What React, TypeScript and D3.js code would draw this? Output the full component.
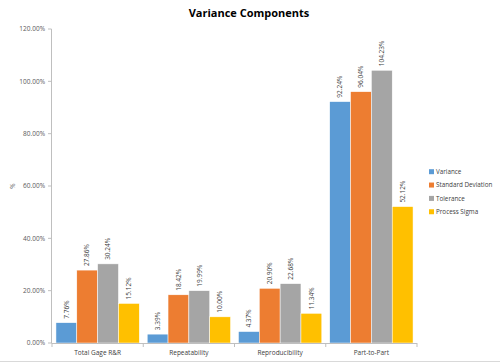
import * as d3 from "d3";

const categories = ["Total Gage R&R", "Repeatability", "Reproducibility", "Part-to-Part"];
const seriesNames = ["Variance", "Standard Deviation", "Tolerance", "Process Sigma"];
const variance = [7.76, 3.39, 4.37, 92.24];
const stdDev = [27.86, 18.42, 20.9, 96.04];
const tolerance = [30.24, 19.99, 22.68, 104.23];
const processSigma = [15.12, 10.0, 11.34, 52.12];
const yTicks = [0, 20, 40, 60, 80, 100, 120];

const COLORS = ["#5B9BD5", "#ED7D31", "#A5A5A5", "#FFC000"];
const FONT = "'Open Sans', 'Liberation Sans', sans-serif";

const WIDTH = 500;
const HEIGHT = 363;
const margin = { top: 29, left: 52, right: 83, bottom: 20 };

export default function App() {
  const series = [variance, stdDev, tolerance, processSigma];
  const plotRight = WIDTH - margin.right;
  const plotBottom = HEIGHT - margin.bottom;

  const x = d3.scaleBand().domain(categories).range([margin.left, plotRight]).paddingOuter(0).paddingInner(0);
  const inner = d3
    .scaleBand()
    .domain(seriesNames)
    .range([0, x.bandwidth()])
    .paddingOuter(0.19)
    .paddingInner(0);
  const y = d3.scaleLinear().domain([0, 120]).range([plotBottom, margin.top]);

  const boundaries = categories.map((c) => x(c)!).concat([plotRight]);

  return (
    <svg
      width={WIDTH}
      height={HEIGHT}
      style={{ position: "fixed", top: 0, left: 0, background: "#fff" }}
      fontFamily={FONT}
    >
      <text x={249} y={17} textAnchor="middle" fontSize={11} fontWeight="bold" fill="#000">
        Variance Components
      </text>

      {/* y axis */}
      <line x1={margin.left - 0.5} x2={margin.left - 0.5} y1={y(120)} y2={plotBottom} stroke="#BFBFBF" />
      {yTicks.map((t) => (
        <g key={t}>
          <line x1={margin.left - 4} x2={margin.left - 0.5} y1={y(t)} y2={y(t)} stroke="#BFBFBF" />
          <text x={margin.left - 7} y={y(t)} dy="0.35em" textAnchor="end" fontSize={6.5} fill="#595959">
            {t.toFixed(2)}%
          </text>
        </g>
      ))}
      <text
        transform={`translate(13, ${y(60)}) rotate(-90)`}
        textAnchor="middle"
        dy="0.35em"
        fontSize={6.5}
        fill="#595959"
      >
        %
      </text>

      {/* bars */}
      {categories.map((c, ci) =>
        series.map((vals, si) => {
          const bx = x(c)! + inner(seriesNames[si])!;
          const v = vals[ci];
          const by = y(v);
          const cx = bx + inner.bandwidth() / 2;
          return (
            <g key={`${c}-${si}`}>
              <rect
                x={bx}
                y={by}
                width={inner.bandwidth()}
                height={plotBottom - by}
                fill={COLORS[si]}
                stroke="#fff"
                strokeWidth={0.5}
              />
              <text
                transform={`translate(${cx}, ${by - 4}) rotate(-90)`}
                dy="0.35em"
                fontSize={6.5}
                fill="#404040"
              >
                {v.toFixed(2)}%
              </text>
            </g>
          );
        })
      )}

      {/* x axis */}
      <line x1={margin.left - 0.5} x2={plotRight} y1={plotBottom + 0.5} y2={plotBottom + 0.5} stroke="#BFBFBF" />
      {boundaries.map((b, i) => (
        <line key={i} x1={b} x2={b} y1={plotBottom} y2={plotBottom + 4} stroke="#BFBFBF" />
      ))}
      {categories.map((c) => (
        <text
          key={c}
          x={x(c)! + x.bandwidth() / 2}
          y={plotBottom + 10}
          dy="0.35em"
          textAnchor="middle"
          fontSize={6.5}
          fill="#404040"
        >
          {c}
        </text>
      ))}

      {/* legend */}
      {seriesNames.map((s, i) => (
        <g key={s} transform={`translate(429, ${171.7 + i * 13.35})`}>
          <rect x={0} y={-2.5} width={5} height={5} fill={COLORS[i]} />
          <text x={7} y={0} dy="0.35em" fontSize={6.3} fill="#404040">
            {s}
          </text>
        </g>
      ))}

      <line x1={0} x2={WIDTH} y1={361.5} y2={361.5} stroke="#D9D9D9" />
    </svg>
  );
}
